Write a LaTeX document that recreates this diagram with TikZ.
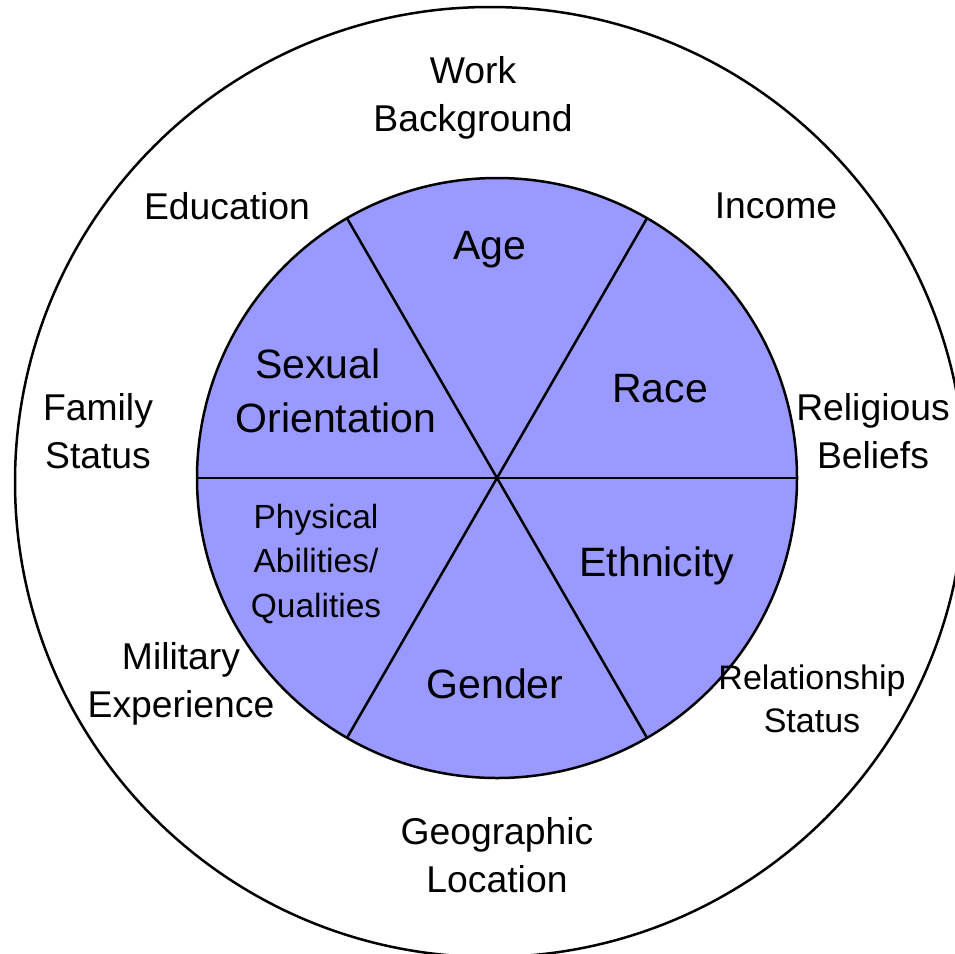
\documentclass[tikz,border=0pt]{standalone}
\usepackage{fontspec}
\setmainfont{Liberation Sans}
\definecolor{wedge}{HTML}{9999FF}
\tikzset{
  ring/.style={draw=black, line width=2.5pt},
  spoke/.style={draw=black, line width=2.5pt},
  outerlbl/.style={align=center, inner sep=0pt, font=\fontsize{37.3}{48}\selectfont},
  smalllbl/.style={align=center, inner sep=0pt, font=\fontsize{34}{43.5}\selectfont},
  innerlbl/.style={align=center, inner sep=0pt, font=\fontsize{41}{53}\selectfont},
  physlbl/.style={align=center, inner sep=0pt, font=\fontsize{33.5}{44.5}\selectfont}
}
\begin{document}
\begin{tikzpicture}[x=1pt,y=-1pt]
\useasboundingbox (0,0) rectangle (955,953);
\clip (0,0) rectangle (955,953);
\fill[white] (0,0) rectangle (955,953);
% outer circle
\draw[ring] (490,482) circle[radius=475];
% inner circle
\coordinate (c) at (497,478);
\filldraw[ring, fill=wedge] (c) circle[radius=300];
\coordinate (pL) at (197,478);
\coordinate (pR) at (797,478);
\coordinate (pTL) at (347,218.2);
\coordinate (pTR) at (647,218.2);
\coordinate (pBL) at (347,737.8);
\coordinate (pBR) at (647,737.8);
\draw[spoke] (pL) -- (pR);
\draw[spoke] (pTL) -- (pBR);
\draw[spoke] (pTR) -- (pBL);
% inner labels
\node[innerlbl] (age) at (490,250) {Age};
\node[innerlbl] (so1) at (318,364) {Sexual};
\node[innerlbl] (so2) at (336,418) {Orientation};
\node[innerlbl] (race) at (660,389) {Race};
\node[physlbl] (phys) at (316,564) {Physical\\Abilities/\\Qualities};
\node[innerlbl] (eth) at (657,566) {Ethnicity};
\node[innerlbl] (gen) at (495,684) {Gender};
% outer labels
\node[outerlbl] (work) at (473,98) {Work\\Background};
\node[outerlbl] (edu) at (227,206) {Education};
\node[outerlbl] (inc) at (776,206) {Income};
\node[outerlbl] (fam) at (98,431) {Family\\Status};
\node[outerlbl] (rel) at (873,431) {Religious\\Beliefs};
\node[outerlbl] (mil) at (181,684) {Military\\Experience};
\node[smalllbl] (rs) at (812,699) {Relationship\\Status};
\node[outerlbl] (geo) at (497,855) {Geographic\\Location};
\end{tikzpicture}
\end{document}
